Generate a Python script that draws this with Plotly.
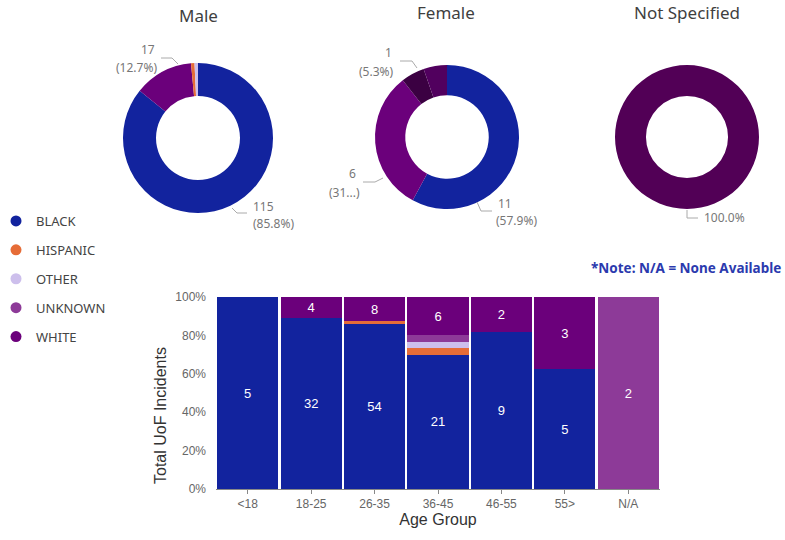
import plotly.graph_objects as go

W, H = 785, 540

races = ["BLACK", "HISPANIC", "OTHER", "UNKNOWN", "WHITE"]
race_colors = {"BLACK": "#12239E", "HISPANIC": "#E66C37", "OTHER": "#CDBFEC",
               "UNKNOWN": "#8D3A98", "WHITE": "#6B007B"}

# Donut data (sorted by value, as in the reference)
male_labels = ["BLACK", "WHITE", "HISPANIC", "OTHER"]
male_values = [115, 17, 1, 1]
male_colors = ["#12239E", "#6B007B", "#E66C37", "#CDBFEC"]

female_labels = ["BLACK", "WHITE", "HISPANIC", "UNKNOWN"]
female_values = [11, 6, 1, 1]
female_colors = ["#12239E", "#6B007B", "#3B0042", "#51005E"]

ns_labels = ["UNKNOWN"]
ns_values = [2]
ns_colors = ["#520056"]

# Bar data
age_groups = ["<18", "18-25", "26-35", "36-45", "46-55", "55>", "N/A"]
bar_values = {
    "BLACK":    [5, 32, 54, 21, 9, 5, 0],
    "HISPANIC": [0, 0, 1, 1, 0, 0, 0],
    "OTHER":    [0, 0, 0, 1, 0, 0, 0],
    "UNKNOWN":  [0, 0, 0, 1, 0, 0, 2],
    "WHITE":    [0, 4, 8, 6, 2, 3, 0],
}

def px(x):
    return x / W

def py(y):
    return 1 - y / H

fig = go.Figure()

def add_donut(labels, values, colors, cx, cy, r, hole):
    fig.add_trace(go.Pie(
        labels=labels, values=values, hole=hole, sort=False,
        direction="clockwise", rotation=0,
        marker=dict(colors=colors, line=dict(width=0)),
        textinfo="none", showlegend=False, automargin=False,
        domain=dict(x=[px(cx - r), px(cx + r)], y=[py(cy + r), py(cy - r)]),
    ))

add_donut(male_labels, male_values, male_colors, 198, 138, 75, 0.56)
add_donut(female_labels, female_values, female_colors, 447, 137, 72, 0.58)
add_donut(ns_labels, ns_values, ns_colors, 687, 137, 72, 0.57)

totals = [sum(v[i] for v in bar_values.values()) for i in range(len(age_groups))]
for race in races:
    vals = bar_values[race]
    txt = [str(v) if t and v / t >= 0.1 else "" for v, t in zip(vals, totals)]
    fig.add_trace(go.Bar(
        x=age_groups, y=vals, name=race, marker=dict(color=race_colors[race], line=dict(width=0)),
        text=txt, textposition="inside", insidetextanchor="middle", textangle=0,
        textfont=dict(color="white", size=13, family="Liberation Sans, Arial"),
        showlegend=False, hoverinfo="x+y+name",
    ))

# legend entries with circle markers
for i, race in enumerate(races):
    fig.add_trace(go.Scatter(
        x=[None], y=[None], mode="markers", name=race, legendgroup=race,
        marker=dict(color=race_colors[race], size=11, symbol="circle"),
        showlegend=True,
    ))

ann = []
font_s = "Noto Sans, Segoe UI, sans-serif"
def label(x, y, text, anchor):
    ann.append(dict(x=px(x), y=py(y), xref="paper", yref="paper", text=text, showarrow=False,
                    xanchor=anchor, yanchor="middle", font=dict(size=12, color="#777777", family=font_s)))

def pct(vals, i):
    return 100 * vals[i] / sum(vals)

# Male labels
label(157, 50, str(male_values[1]), "right")
label(159, 68, f"({pct(male_values,1):.1f}%)", "right")
label(251, 207, str(male_values[0]), "left")
label(251, 223, f"({pct(male_values,0):.1f}%)", "left")
# Female labels
label(394, 53, str(female_values[2]), "right")
label(396, 72, f"({pct(female_values,2):.1f}%)", "right")
label(358, 173, str(female_values[1]), "right")
label(362, 192, f"({pct(female_values,1):.1f}%)"[:3] + "...)", "right")
label(496, 203, str(female_values[0]), "left")
label(494, 220, f"({pct(female_values,0):.1f}%)", "left")
# Not specified
label(702, 218, f"{pct(ns_values,0):.1f}%", "left")

# titles
for t, x, y in [("Male", 198, 15), ("Female", 446, 12), ("Not Specified", 687, 12)]:
    ann.append(dict(x=px(x), y=py(y), xref="paper", yref="paper", text=t, showarrow=False,
                    xanchor="center", yanchor="middle", font=dict(size=17, color="#3F3F3F", family=font_s)))

ann.append(dict(x=px(783), y=py(268), xref="paper", yref="paper", text="<b>*Note: N/A = None Available</b>",
                showarrow=False, xanchor="right", yanchor="middle",
                font=dict(size=13.5, color="#2B3AAE", family=font_s)))

ann.append(dict(x=px(160), y=py(416), xref="paper", yref="paper", text="Total UoF Incidents",
                showarrow=False, textangle=-90, xanchor="center", yanchor="middle",
                font=dict(size=16, color="#333333", family="Liberation Sans, Arial")))

shapes = []
def leader(points):
    path = "M " + " L ".join(f"{px(x)},{py(y)}" for x, y in points)
    shapes.append(dict(type="path", path=path, xref="paper", yref="paper",
                       line=dict(color="#AAAAAA", width=1)))

leader([(161, 58), (172, 58), (178, 64)])
leader([(232, 208), (237, 213), (247, 213)])
leader([(400, 61), (412, 61), (417, 68)])
leader([(363, 182), (375, 182), (383, 178)])
leader([(477, 202), (481, 211), (492, 211)])
leader([(687, 210), (687, 218), (698, 218)])

fig.update_layout(
    width=W, height=H, margin=dict(l=0, r=0, t=0, b=0, pad=0, autoexpand=False),
    paper_bgcolor="white", plot_bgcolor="white",
    barmode="stack", barnorm="percent", bargap=0.035,
    annotations=ann, shapes=shapes,
    legend=dict(x=px(-4), y=py(206), xanchor="left", yanchor="top",
                font=dict(size=13, color="#444444", family=font_s),
                tracegroupgap=9, traceorder="grouped", itemclick=False,
                bgcolor="rgba(0,0,0,0)"),
    xaxis=dict(domain=[px(216), px(660)], type="category",
               showline=True, linecolor="#888888", linewidth=1,
               ticks="outside", ticklen=4, tickcolor="#888888",
               tickfont=dict(size=12, color="#666666", family="Liberation Sans, Arial"),
               title=dict(text="Age Group", standoff=3,
                          font=dict(size=16, color="#333333", family="Liberation Sans, Arial")),
               showgrid=False, fixedrange=True, automargin=False),
    yaxis=dict(domain=[py(489), py(297)], range=[0, 100], dtick=20, ticksuffix="%",
               showgrid=False, zeroline=False, showline=False, ticks="",
               ticklabelstandoff=9,
               tickfont=dict(size=12, color="#666666", family="Liberation Sans, Arial"),
               fixedrange=True, automargin=False),
)

fig.write_html("out.html", config={"displayModeBar": False},
               post_script="document.body.style.margin='0px';")
